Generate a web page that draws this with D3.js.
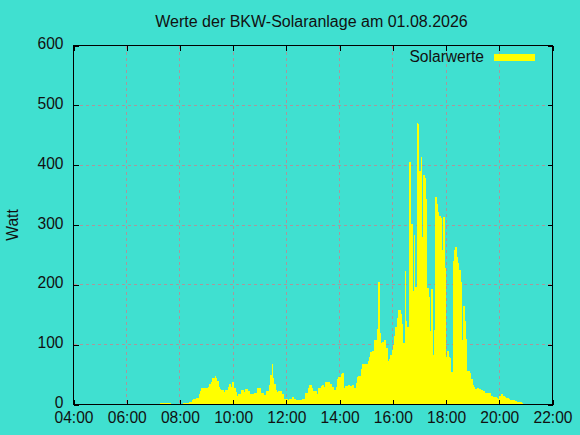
<!DOCTYPE html>
<html><head><meta charset="utf-8">
<script src="https://cdn.jsdelivr.net/npm/d3@7"></script>
<style>body{margin:0;background:#40e0d0} svg{display:block}</style>
</head><body><svg id="c" width="580" height="435"></svg>
<script>
const chartTitle = "Werte der BKW-Solaranlage am 01.08.2026";
const yAxisLabel = "Watt";
const seriesName = "Solarwerte";
const xTickLabels = ["04:00","06:00","08:00","10:00","12:00","14:00","16:00","18:00","20:00","22:00"];
const yTicks = [0,100,200,300,400,500,600];

const times = [
"07:15","07:18","07:21","07:24","07:27","07:30","07:33","07:36","07:39","07:42","07:45","07:48","07:51","07:54","07:57",
"08:00","08:03","08:06","08:09","08:12","08:15","08:18","08:21","08:24","08:27","08:30","08:33","08:36","08:39","08:42","08:45","08:48","08:51","08:54","08:57",
"09:00","09:03","09:06","09:09","09:12","09:15","09:18","09:21","09:24","09:27","09:30","09:33","09:36","09:39","09:42","09:45","09:48","09:51","09:54","09:57",
"10:00","10:03","10:06","10:09","10:12","10:15","10:18","10:21","10:24","10:27","10:30","10:33","10:36","10:39","10:42","10:45","10:48","10:51","10:54","10:57",
"11:00","11:03","11:06","11:09","11:12","11:15","11:18","11:21","11:24","11:27","11:30","11:33","11:36","11:39","11:42","11:45","11:48","11:51","11:54","11:57",
"12:00","12:03","12:06","12:09","12:12","12:15","12:18","12:21","12:24","12:27","12:30","12:33","12:36","12:39","12:42","12:45","12:48","12:51","12:54","12:57",
"13:00","13:03","13:06","13:09","13:12","13:15","13:18","13:21","13:24","13:27","13:30","13:33","13:36","13:39","13:42","13:45","13:48","13:51","13:54","13:57",
"14:00","14:03","14:06","14:09","14:12","14:15","14:18","14:21","14:24","14:27","14:30","14:33","14:36","14:39","14:42","14:45","14:48","14:51","14:54","14:57",
"15:00","15:03","15:06","15:09","15:12","15:15","15:18","15:21","15:24","15:27","15:30","15:33","15:36","15:39","15:42","15:45","15:48","15:51","15:54","15:57",
"16:00","16:03","16:06","16:09","16:12","16:15","16:18","16:21","16:24","16:27","16:30","16:33","16:36","16:39","16:42","16:45","16:48","16:51","16:54","16:57",
"17:00","17:03","17:06","17:09","17:12","17:15","17:18","17:21","17:24","17:27","17:30","17:33","17:36","17:39","17:42","17:45","17:48","17:51","17:54","17:57",
"18:00","18:03","18:06","18:09","18:12","18:15","18:18","18:21","18:24","18:27","18:30","18:33","18:36","18:39","18:42","18:45","18:48","18:51","18:54","18:57",
"19:00","19:03","19:06","19:09","19:12","19:15","19:18","19:21","19:24","19:27","19:30","19:33","19:36","19:39","19:42","19:45","19:48","19:51","19:54","19:57",
"20:00","20:03","20:06","20:09","20:12","20:15","20:18","20:21","20:24","20:27","20:30","20:33","20:36","20:39","20:42","20:45","20:48","20:51"
];

const watts = [
/*07*/ 3,3,3,3,3,3,3,3,0,0,0,0,0,0,0,
/*08*/ 0,0,2,2,3,3,3,5,5,7,9,9,11,11,17,22,27,27,28,28,
/*09*/ 28,30,34,38,44,44,47,44,40,30,26,24,24,21,24,24,30,34,30,37,
/*10*/ 37,28,21,14,17,17,25,25,21,26,26,22,22,18,18,18,20,20,27,27,
/*11*/ 27,20,20,16,16,22,22,32,50,67,44,35,25,21,23,23,22,17,10,10,
/*12*/ 10,8,9,9,13,13,9,7,7,7,7,7,9,9,19,19,27,33,33,27,
/*13*/ 23,23,23,17,27,27,31,33,29,37,37,38,38,34,29,29,24,30,43,46,
/*14*/ 46,51,53,28,31,31,32,32,31,32,32,28,36,46,48,48,59,68,68,68,
/*15*/ 68,72,80,87,89,89,108,107,126,204,120,102,105,108,107,95,73,76,83,91,
/*16*/ 100,115,129,145,158,158,151,135,102,223,140,130,405,405,301,190,284,197,470,468,
/*17*/ 390,413,280,384,379,344,195,180,123,193,83,125,346,335,321,315,311,259,313,228,
/*18*/ 79,90,80,78,54,240,258,263,246,236,225,205,107,165,140,110,56,56,53,43,
/*19*/ 32,30,26,28,28,26,24,24,22,20,20,19,19,19,15,13,12,12,11,10,
/*20*/ 15,18,17,15,12,11,11,9,8,8,8,8,6,4,4,4,4,2
];

const toMin = s => { const [h,m] = s.split(":").map(Number); return h*60+m; };

const L = 73.5, R = 552.5, T = 45.5, B = 404.5;
const FONT = "'Liberation Sans', Arial, Helvetica, sans-serif";
const svg = d3.select("#c");
svg.append("rect").attr("width",580).attr("height",435).attr("fill","#40e0d0");

const xTickVals = xTickLabels.map(toMin);
const x = d3.scaleLinear().domain([xTickVals[0], xTickVals[xTickVals.length-1]]).range([L, R]);
const y = d3.scaleLinear().domain([yTicks[0], yTicks[yTicks.length-1]]).range([B, T]);

// dotted grid drawn as small dash rects (pixel aligned)
const gridColor = "#a8989c";
const DASH = 3, GAP = 3;
const grid = svg.append("g").attr("fill",gridColor).attr("shape-rendering","crispEdges");
const vOff = d3.range(Math.ceil(T), Math.floor(B), DASH+GAP);
const hOff = d3.range(Math.ceil(L), Math.floor(R), DASH+GAP);
xTickVals.slice(1,-1).forEach(t => {
  const gx = Math.floor(x(t));
  grid.append("g").selectAll("rect").data(vOff).join("rect")
    .attr("x",gx).attr("width",1).attr("y",d=>d).attr("height",d=>Math.min(DASH, Math.floor(B)-d));
});
yTicks.slice(1,-1).forEach(v => {
  const gy = Math.floor(y(v));
  grid.append("g").selectAll("rect").data(hOff).join("rect")
    .attr("y",gy).attr("height",1).attr("x",d=>d).attr("width",d=>Math.min(DASH, Math.floor(R)-d));
});

// data
const tm = times.map(toMin);
const step = tm[tm.length-1]-tm[tm.length-2];
const pts = tm.map((t,i)=>({t, v: watts[i]}));
pts.push({t: tm[tm.length-1]+step, v: 0});
const area = d3.area().curve(d3.curveStepAfter).x(d=>x(d.t)).y0(y(0)).y1(d=>y(d.v));
svg.append("path").datum(pts).attr("d",area).attr("fill","#ffff00").attr("shape-rendering","crispEdges");

// axes (ticks inward, mirrored)
const styleAxis = g => { g.select(".domain").remove(); g.selectAll("line").attr("stroke","#000").attr("shape-rendering","crispEdges");
  g.selectAll("text").attr("fill","#111").style("font-family",FONT).style("font-size","15.6px"); };
svg.append("g").attr("transform",`translate(0,${B})`)
  .call(d3.axisBottom(x).tickValues(xTickVals).tickSize(-5).tickPadding(7.5).tickFormat((d,i)=>xTickLabels[i]))
  .call(styleAxis);
svg.append("g").attr("transform",`translate(0,${T})`)
  .call(d3.axisTop(x).tickValues(xTickVals).tickSize(-5).tickFormat(""))
  .call(styleAxis);
svg.append("g").attr("transform",`translate(${L},0)`)
  .call(d3.axisLeft(y).tickValues(yTicks).tickSize(-5).tickPadding(10))
  .call(styleAxis)
  .call(g=>g.selectAll("text").attr("dy","0.2em"));
svg.append("g").attr("transform",`translate(${R},0)`)
  .call(d3.axisRight(y).tickValues(yTicks).tickSize(-5).tickFormat(""))
  .call(styleAxis);

// border
svg.append("rect").attr("x",L).attr("y",T).attr("width",R-L).attr("height",B-T)
  .attr("fill","none").attr("stroke","#000").attr("shape-rendering","crispEdges");

// title
svg.append("text").attr("x",311.5).attr("y",26.5).attr("text-anchor","middle")
  .style("font-family",FONT).style("font-size","16px").attr("fill","#111").text(chartTitle);
// y label
svg.append("text").attr("transform","translate(17.5,225) rotate(-90)").attr("text-anchor","middle")
  .style("font-family",FONT).style("font-size","15.6px").attr("fill","#111").text(yAxisLabel);
// legend
svg.append("text").attr("x",484).attr("y",61.5).attr("text-anchor","end")
  .style("font-family",FONT).style("font-size","15.6px").attr("fill","#111").text(seriesName);
svg.append("rect").attr("x",494).attr("y",54).attr("width",41).attr("height",7).attr("fill","#ffff00");
</script></body></html>
